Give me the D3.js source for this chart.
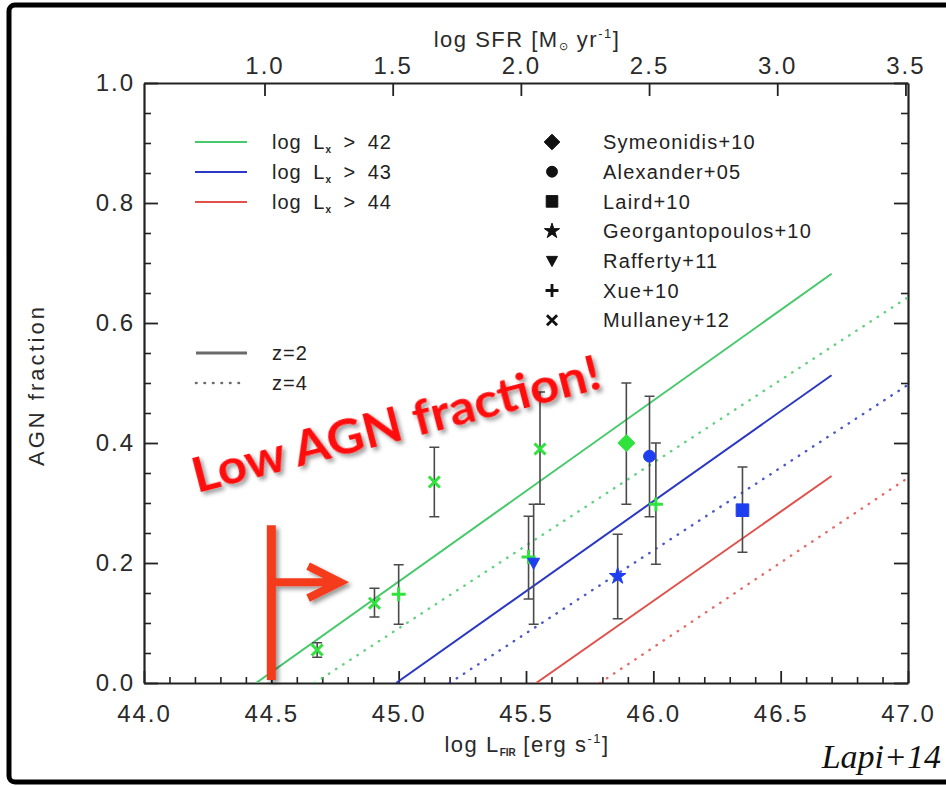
<!DOCTYPE html>
<html>
<head>
<meta charset="utf-8">
<script src="https://cdn.jsdelivr.net/npm/d3@7"></script>
<style>
  html, body { margin: 0; padding: 0; background: #fff; }
  svg { display: block; }
</style>
</head>
<body>
<svg id="chart" width="946" height="786"></svg>
<script>
// ---- axes ----
const xDomain = [44.0, 47.0];
const yDomain = [0.0, 1.0];
const sfrDomain = [0.53, 3.51];
const xTickValues = [44.0, 44.5, 45.0, 45.5, 46.0, 46.5, 47.0];
const xTickLabels = ["44.0", "44.5", "45.0", "45.5", "46.0", "46.5", "47.0"];
const yTickValues = [0.0, 0.2, 0.4, 0.6, 0.8, 1.0];
const yTickLabels = ["0.0", "0.2", "0.4", "0.6", "0.8", "1.0"];
const sfrTickValues = [1.0, 1.5, 2.0, 2.5, 3.0, 3.5];
const sfrTickLabels = ["1.0", "1.5", "2.0", "2.5", "3.0", "3.5"];

// ---- model curves: [log L_FIR, AGN fraction] endpoints, one per X-ray threshold ----
const lxThresholds = ["42", "43", "44"];
const modelZ2 = [
  [[44.44, 0.0], [46.70, 0.682]],
  [[44.99, 0.0], [46.70, 0.513]],
  [[45.54, 0.0], [46.70, 0.345]]
];
const modelZ4 = [
  [[44.67, 0.0], [47.00, 0.643]],
  [[45.20, 0.0], [47.00, 0.497]],
  [[45.79, 0.0], [47.00, 0.342]]
];
const redshiftLabels = ["z=2", "z=4"];

// ---- observational points ----
const references = ["Symeonidis+10", "Alexander+05", "Laird+10", "Georgantopoulos+10",
                    "Rafferty+11", "Xue+10", "Mullaney+12"];
const pointRef  = [6, 6, 5, 6, 5, 4, 6, 0, 1, 5, 3, 2];
const pointLogL = [44.68, 44.905, 45.00, 45.14, 45.51, 45.53, 45.555, 45.894, 45.985, 46.01, 45.86, 46.35];
const pointFrac = [0.055, 0.133, 0.148, 0.335, 0.21, 0.20, 0.39, 0.40, 0.378, 0.298, 0.178, 0.288];
const pointLow  = [0.043, 0.110, 0.098, 0.277, 0.14, 0.098, 0.298, 0.298, 0.277, 0.198, 0.107, 0.218];
const pointHigh = [0.067, 0.158, 0.197, 0.393, 0.278, 0.298, 0.485, 0.50, 0.478, 0.40, 0.248, 0.36];
const pointLx   = [0, 0, 0, 0, 0, 1, 0, 0, 1, 0, 1, 1];   // index into lxThresholds

// ---- annotation ----
const noteText = "Low AGN fraction!";
const noteLogL = 44.5;
const noteArrowTo = 44.77;
const noteBarTop = 0.263;
const noteArrowAt = 0.168;

// ---- styling ----
const lineColors = ["#45c96a", "#2b38c4", "#e0514c"];
const markerColors = ["#2fe23c", "#1e3ff0", "#e0514c"];
const symbolKind = ["diamond", "circle", "square", "star", "triDown", "plus", "times"];
const axisFont = "'Liberation Sans', Arial, sans-serif";

const svg = d3.select("#chart");
const margin = { left: 144, right: 908, top: 83, bottom: 683 };

const x = d3.scaleLinear().domain(xDomain).range([margin.left, margin.right]);
const y = d3.scaleLinear().domain(yDomain).range([margin.bottom, margin.top]);
const xSfr = d3.scaleLinear().domain(sfrDomain).range([margin.left, margin.right]);

// frame round the whole figure
svg.append("rect")
  .attr("x", 9).attr("y", 5).attr("width", 960).attr("height", 777)
  .attr("rx", 6)
  .attr("fill", "none").attr("stroke", "#000").attr("stroke-width", 5);

// shadow for the red annotation
const defs = svg.append("defs");
const shadow = defs.append("filter").attr("id", "noteShadow")
  .attr("x", "-10%").attr("y", "-30%").attr("width", "130%").attr("height", "180%");
shadow.append("feDropShadow")
  .attr("dx", 3).attr("dy", 3).attr("stdDeviation", 2)
  .attr("flood-color", "#000").attr("flood-opacity", 0.4);

const plotClip = defs.append("clipPath").attr("id", "plotClip");
plotClip.append("rect")
  .attr("x", margin.left).attr("y", margin.top)
  .attr("width", margin.right - margin.left).attr("height", margin.bottom - margin.top);

// ---- axes ----
const minorX = d3.range(44.1, 47.0, 0.1).filter(v => Math.abs(v * 2 - Math.round(v * 2)) > 1e-6);
const minorY = d3.range(0.05, 1.0, 0.05).filter(v => Math.abs(v * 5 - Math.round(v * 5)) > 1e-6);

function styleAxis(g) {
  g.select(".domain").attr("stroke", "#222").attr("stroke-width", 2.2);
  g.selectAll(".tick line").attr("stroke", "#222").attr("stroke-width", 1.8);
  g.selectAll(".tick text")
    .attr("fill", "#2a2a2a")
    .style("font-family", axisFont)
    .style("font-size", "24px")
    .style("letter-spacing", "2px");
  g.attr("font-family", null).attr("font-size", null);
}
function minorStyle(g) {
  g.select(".domain").remove();
  g.selectAll(".tick line").attr("stroke", "#222").attr("stroke-width", 1.6);
}

// bottom
svg.append("g").attr("transform", `translate(0,${margin.bottom})`)
  .call(d3.axisBottom(x).tickValues(minorX).tickFormat("").tickSizeInner(-6).tickSizeOuter(0))
  .call(minorStyle);
svg.append("g").attr("transform", `translate(0,${margin.bottom})`)
  .call(d3.axisBottom(x).tickValues(xTickValues)
    .tickFormat((d, i) => xTickLabels[i]).tickSizeInner(-12).tickSizeOuter(0).tickPadding(22))
  .call(styleAxis);

// left
svg.append("g").attr("transform", `translate(${margin.left},0)`)
  .call(d3.axisLeft(y).tickValues(minorY).tickFormat("").tickSizeInner(-7).tickSizeOuter(0))
  .call(minorStyle);
svg.append("g").attr("transform", `translate(${margin.left},0)`)
  .call(d3.axisLeft(y).tickValues(yTickValues)
    .tickFormat((d, i) => yTickLabels[i]).tickSizeInner(-14).tickSizeOuter(0).tickPadding(9))
  .call(styleAxis);

// right
svg.append("g").attr("transform", `translate(${margin.right},0)`)
  .call(d3.axisRight(y).tickValues(minorY).tickFormat("").tickSizeInner(-7).tickSizeOuter(0))
  .call(minorStyle);
svg.append("g").attr("transform", `translate(${margin.right},0)`)
  .call(d3.axisRight(y).tickValues(yTickValues).tickFormat("").tickSizeInner(-14).tickSizeOuter(0))
  .call(styleAxis);

// top: star formation rate
svg.append("g").attr("transform", `translate(0,${margin.top})`)
  .call(d3.axisTop(xSfr).tickValues(sfrTickValues)
    .tickFormat((d, i) => sfrTickLabels[i]).tickSizeInner(-13).tickSizeOuter(0).tickPadding(9))
  .call(styleAxis);

// axis titles
const titleStyle = t => t
  .attr("fill", "#2a2a2a")
  .style("font-family", axisFont)
  .style("font-size", "22px")
  .style("letter-spacing", "1.5px");

const topTitle = svg.append("text").attr("x", 527).attr("y", 47).attr("text-anchor", "middle").call(titleStyle);
topTitle.append("tspan").text("log SFR [M");
topTitle.append("tspan").attr("dy", 3).style("font-size", "11px").text("⊙");
topTitle.append("tspan").attr("dy", -3).text(" yr");
topTitle.append("tspan").attr("dy", -9).style("font-size", "13px").text("-1");
topTitle.append("tspan").attr("dy", 9).text("]");

const bottomTitle = svg.append("text").attr("x", 527).attr("y", 752).attr("text-anchor", "middle").call(titleStyle);
bottomTitle.append("tspan").text("log L");
bottomTitle.append("tspan").attr("dy", 4).style("font-size", "10px").style("font-weight", "bold")
  .style("letter-spacing", "0px").text("FIR");
bottomTitle.append("tspan").attr("dy", -4).text(" [erg s");
bottomTitle.append("tspan").attr("dy", -9).style("font-size", "13px").text("-1");
bottomTitle.append("tspan").attr("dy", 9).text("]");

svg.append("text")
  .attr("transform", "translate(44,385) rotate(-90)")
  .attr("text-anchor", "middle")
  .call(titleStyle)
  .style("letter-spacing", "3px")
  .text("AGN fraction");

// ---- model lines ----
const line = d3.line().x(d => x(d[0])).y(d => y(d[1]));
const lines = svg.append("g").attr("clip-path", "url(#plotClip)");
lines.selectAll("path.z2").data(modelZ2).join("path")
  .attr("class", "z2")
  .attr("d", line)
  .attr("fill", "none")
  .attr("stroke", (d, i) => lineColors[i])
  .attr("stroke-width", 2);
lines.selectAll("path.z4").data(modelZ4).join("path")
  .attr("class", "z4")
  .attr("d", line)
  .attr("fill", "none")
  .attr("stroke", (d, i) => lineColors[i])
  .attr("stroke-width", 2.4)
  .attr("stroke-linecap", "round")
  .attr("stroke-dasharray", "0.5,8")
  .attr("opacity", 0.85);

// ---- marker shapes ----
function markerPath(kind, legend) {
  const k = legend ? 0.92 : 1;
  switch (kind) {
    case "diamond": { const s = 8.5 * k; return `M0,${-s}L${s},0L0,${s}L${-s},0Z`; }
    case "square":  { const s = 6.3 * k; return `M${-s},${-s}H${s}V${s}H${-s}Z`; }
    case "triDown": { const s = 6 * k; return `M${-s},${-s * 0.8}H${s}L0,${s * 1.05}Z`; }
    case "circle":  return d3.symbol(d3.symbolCircle, 110 * k * k)();
    case "star":    return d3.symbol(d3.symbolStar, 85 * k * k)();
    case "plus":    { const s = 7 * k; return `M${-s},0H${s}M0,${-s}V${s}`; }
    case "times":   { const s = 5.5 * k; return `M${-s},${-s}L${s},${s}M${-s},${s}L${s},${-s}`; }
  }
}
const strokeKinds = new Set(["plus", "times"]);

// ---- error bars and points ----
const points = pointRef.map((r, i) => ({
  ref: r, L: pointLogL[i], f: pointFrac[i], lo: pointLow[i], hi: pointHigh[i], lx: pointLx[i]
}));

const errG = svg.append("g").attr("stroke", "#4a4a4a").attr("stroke-width", 1.6).attr("fill", "none");
points.forEach(p => {
  const px = x(p.L);
  errG.append("path")
    .attr("d", `M${px},${y(p.lo)}V${y(p.hi)}M${px - 5},${y(p.lo)}H${px + 5}M${px - 5},${y(p.hi)}H${px + 5}`);
});

svg.append("g").selectAll("path").data(points).join("path")
  .attr("transform", p => `translate(${x(p.L)},${y(p.f)})`)
  .attr("d", p => markerPath(symbolKind[p.ref], false))
  .attr("fill", p => strokeKinds.has(symbolKind[p.ref]) ? "none" : markerColors[p.lx])
  .attr("stroke", p => markerColors[p.lx])
  .attr("stroke-width", p => strokeKinds.has(symbolKind[p.ref]) ? 3 : 1);

// ---- legend: X-ray thresholds and redshift ----
const legendFont = t => t
  .attr("fill", "#222")
  .style("font-family", axisFont)
  .style("font-size", "20px")
  .style("letter-spacing", "1px")
  .style("word-spacing", "5px");

const lxRows = [142, 172, 202];
lxThresholds.forEach((v, i) => {
  svg.append("line")
    .attr("x1", 195).attr("x2", 247).attr("y1", lxRows[i]).attr("y2", lxRows[i])
    .attr("stroke", lineColors[i]).attr("stroke-width", 2);
  const t = svg.append("text").attr("x", 272).attr("y", lxRows[i]).attr("dy", "0.36em").call(legendFont);
  t.append("tspan").text("log L");
  t.append("tspan").attr("dy", 4).style("font-size", "10px").style("font-weight", "bold").text("x");
  t.append("tspan").attr("dy", -4).text(` > ${v}`);
});

const zRows = [353, 383];
redshiftLabels.forEach((lab, i) => {
  svg.append("line")
    .attr("x1", 196).attr("x2", 247).attr("y1", zRows[i]).attr("y2", zRows[i])
    .attr("stroke", "#6a6a6a")
    .attr("stroke-width", i === 0 ? 3 : 2.6)
    .attr("stroke-linecap", i === 0 ? "butt" : "round")
    .attr("stroke-dasharray", i === 0 ? null : "0.5,8");
  svg.append("text").attr("x", 272).attr("y", zRows[i]).attr("dy", "0.36em").call(legendFont).text(lab);
});

// ---- legend: references ----
references.forEach((name, i) => {
  const ry = 142 + i * 29.7;
  const kind = symbolKind[i];
  svg.append("path")
    .attr("transform", `translate(552,${ry})`)
    .attr("d", markerPath(kind, true))
    .attr("fill", strokeKinds.has(kind) ? "none" : "#111")
    .attr("stroke", "#111")
    .attr("stroke-width", strokeKinds.has(kind) ? 2.8 : 1);
  svg.append("text").attr("x", 603).attr("y", ry).attr("dy", "0.36em").call(legendFont)
    .style("letter-spacing", "1.2px").text(name);
});

// ---- annotation: low AGN fraction regime ----
const noteColor = "#f43a1c";
const note = svg.append("g").attr("filter", "url(#noteShadow)");
const bx = x(noteLogL);
note.append("path")
  .attr("d", `M${bx},${y(0) - 3}V${y(noteBarTop)}`)
  .attr("stroke", noteColor).attr("stroke-width", 9).attr("fill", "none");
const ay = y(noteArrowAt), ax = x(noteArrowTo);
note.append("path")
  .attr("d", `M${bx},${ay}H${ax - 3}M${ax - 32},${ay - 16}L${ax},${ay}L${ax - 32},${ay + 16}`)
  .attr("stroke", noteColor).attr("stroke-width", 8).attr("fill", "none")
  .attr("stroke-linejoin", "miter").attr("stroke-linecap", "butt");

note.append("text")
  .attr("transform", "translate(197,493) rotate(-14.5)")
  .attr("fill", "#ff0d0d")
  .style("font-family", "Lato, 'Open Sans', sans-serif")
  .style("font-weight", "700")
  .style("font-size", "47px")
  .attr("textLength", 420)
  .attr("lengthAdjust", "spacingAndGlyphs")
  .text(noteText);

// citation
svg.append("text")
  .attr("x", 941).attr("y", 768).attr("text-anchor", "end")
  .attr("fill", "#111")
  .style("font-family", "'Liberation Serif', 'DejaVu Serif', serif")
  .style("font-style", "italic")
  .style("font-size", "34px")
  .text("Lapi+14");
</script>
</body>
</html>
